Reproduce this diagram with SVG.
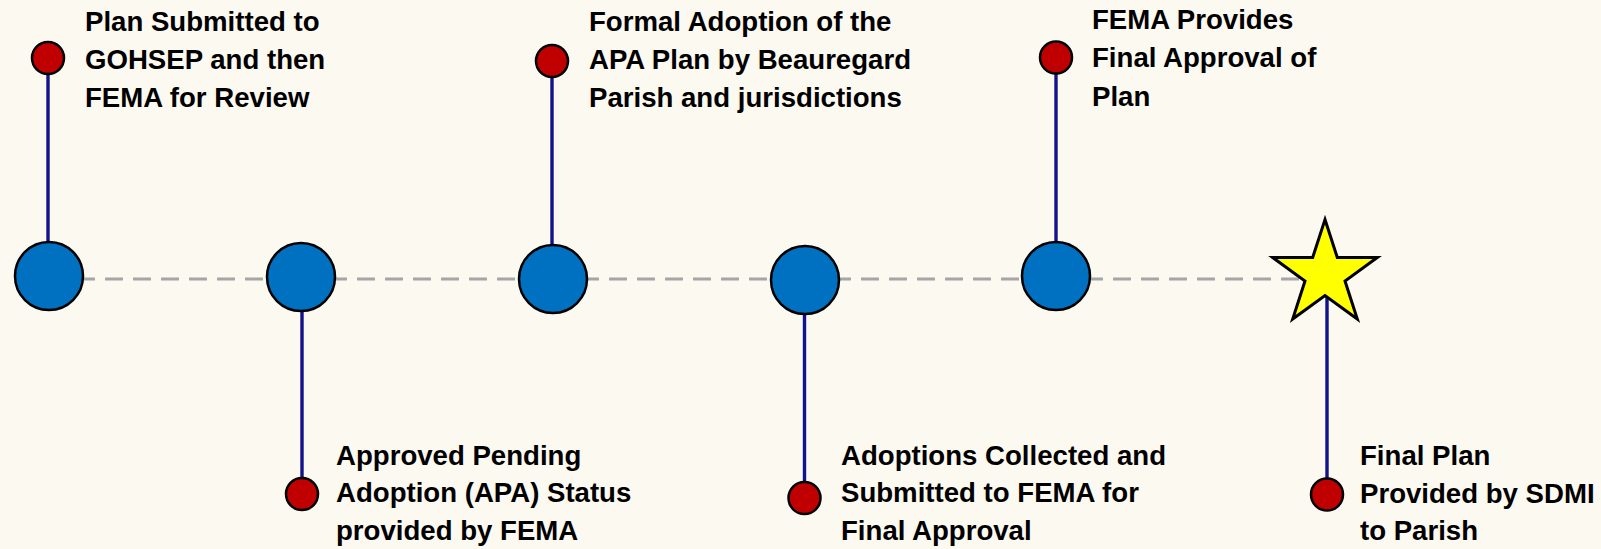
<svg xmlns="http://www.w3.org/2000/svg" width="1601" height="549" viewBox="0 0 1601 549">
<style>
.lbl{font-family:"Liberation Sans",Arial,sans-serif;font-weight:bold;font-size:27.6px;fill:#000}
.stem{stroke:#12128a;stroke-width:3.4;fill:none}
.big{fill:#0070c0;stroke:#000;stroke-width:2.5}
.dot{fill:#c00000;stroke:#000;stroke-width:2.5}
.axis{stroke:#a6a6a6;stroke-width:3;stroke-dasharray:18 10;fill:none}
</style>
<rect x="0" y="0" width="1601" height="549" fill="#fcf9f1"/>
<g id="connectors">
<line class="axis" x1="49" y1="279" x2="1325" y2="279"/>
<line class="stem" x1="48" y1="58" x2="48" y2="242"/>
<line class="stem" x1="302" y1="311" x2="302" y2="494"/>
<line class="stem" x1="552" y1="61" x2="552" y2="245"/>
<line class="stem" x1="804.5" y1="313" x2="804.5" y2="498"/>
<line class="stem" x1="1056" y1="57.5" x2="1056" y2="242"/>
<line class="stem" x1="1327" y1="290" x2="1327" y2="494.5"/>
</g>
<g id="n1">
<circle class="big" cx="49" cy="276" r="34"/>
<circle class="dot" cx="48" cy="58" r="16"/>
<text class="lbl"><tspan x="85" y="30.5">Plan Submitted to</tspan><tspan x="85" y="68.5">GOHSEP and then</tspan><tspan x="85" y="106.5">FEMA for Review</tspan></text>
</g>
<g id="n2">
<circle class="big" cx="301" cy="277" r="34"/>
<circle class="dot" cx="302" cy="494" r="16"/>
<text class="lbl"><tspan x="336" y="465">Approved Pending</tspan><tspan x="336" y="502">Adoption (APA) Status</tspan><tspan x="336" y="539.5">provided by FEMA</tspan></text>
</g>
<g id="n3">
<circle class="big" cx="553" cy="279" r="34"/>
<circle class="dot" cx="552" cy="61" r="16"/>
<text class="lbl"><tspan x="589" y="30.5">Formal Adoption of the</tspan><tspan x="589" y="68.5">APA Plan by Beauregard</tspan><tspan x="589" y="106.5">Parish and jurisdictions</tspan></text>
</g>
<g id="n4">
<circle class="big" cx="805" cy="280" r="34"/>
<circle class="dot" cx="804.5" cy="498" r="16"/>
<text class="lbl"><tspan x="841" y="465">Adoptions Collected and</tspan><tspan x="841" y="502">Submitted to FEMA for</tspan><tspan x="841" y="539.5">Final Approval</tspan></text>
</g>
<g id="n5">
<circle class="big" cx="1056" cy="276" r="34"/>
<circle class="dot" cx="1056" cy="57.5" r="16"/>
<text class="lbl"><tspan x="1092" y="29">FEMA Provides</tspan><tspan x="1092" y="67">Final Approval of</tspan><tspan x="1092" y="105.5">Plan</tspan></text>
</g>
<g id="n6">
<polygon points="1325,219.5 1337.3,257.5 1377.3,257.5 1345,281 1357.3,319 1325,295.5 1292.7,319 1305,281 1272.7,257.5 1312.7,257.5" fill="#ffff00" stroke="#000" stroke-width="3"/>
<circle class="dot" cx="1327" cy="494.5" r="16"/>
<text class="lbl"><tspan x="1360" y="465">Final Plan</tspan><tspan x="1360" y="502.5">Provided by SDMI</tspan><tspan x="1360" y="540">to Parish</tspan></text>
</g>
</svg>
